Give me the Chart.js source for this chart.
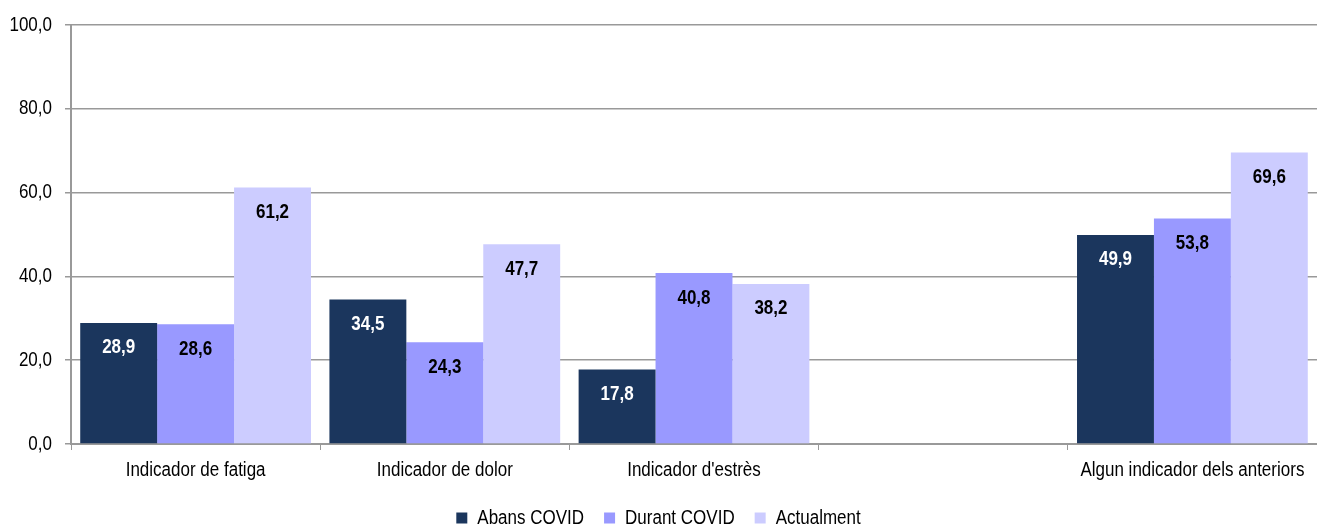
<!DOCTYPE html>
<html>
<head>
<meta charset="utf-8">
<script src="https://cdn.jsdelivr.net/npm/chart.js@4"></script>
<style>
  html, body { margin: 0; padding: 0; background: #fff; }
  #wrap { width: 1317px; height: 528px; }
</style>
</head>
<body>
<div id="wrap"><canvas id="chart"></canvas></div>
<script>
const categories = ['Indicador de fatiga', 'Indicador de dolor', "Indicador d'estrès", '', 'Algun indicador dels anteriors'];
const seriesNames = ['Abans COVID', 'Durant COVID', 'Actualment'];
const abansValues = [28.9, 34.5, 17.8, null, 49.9];
const durantValues = [28.6, 24.3, 40.8, null, 53.8];
const actualValues = [61.2, 47.7, 38.2, null, 69.6];
const yTicks = [0, 20, 40, 60, 80, 100];

const colors = ['#1B365D', '#9999FF', '#CCCCFF'];
const labelColors = ['#FFFFFF', '#000000', '#000000'];
const FONT = '"Liberation Sans", Arial, sans-serif';
const fmt = v => v.toFixed(1).replace('.', ',');

// the reference uses a narrow font, so squeeze all canvas text horizontally
const SQUEEZE = 0.85;
const canvas = document.getElementById('chart');
const ctx2d = canvas.getContext('2d');
const origFill = ctx2d.fillText.bind(ctx2d);
const origMeasure = ctx2d.measureText.bind(ctx2d);
ctx2d.fillText = function (text, x, y, maxWidth) {
    this.save();
    this.translate(x, y);
    this.scale(SQUEEZE, 1);
    if (maxWidth === undefined) origFill(text, 0, 0);
    else origFill(text, 0, 0, maxWidth / SQUEEZE);
    this.restore();
};
ctx2d.measureText = function (text) {
    const m = origMeasure(text);
    return {
        width: m.width * SQUEEZE,
        actualBoundingBoxAscent: m.actualBoundingBoxAscent,
        actualBoundingBoxDescent: m.actualBoundingBoxDescent,
        actualBoundingBoxLeft: m.actualBoundingBoxLeft * SQUEEZE,
        actualBoundingBoxRight: m.actualBoundingBoxRight * SQUEEZE,
        fontBoundingBoxAscent: m.fontBoundingBoxAscent,
        fontBoundingBoxDescent: m.fontBoundingBoxDescent
    };
};

// value labels inside the top of each bar
const barLabels = {
    id: 'barLabels',
    afterDatasetsDraw(chart) {
        const ctx = chart.ctx;
        ctx.save();
        ctx.font = 'bold 20px ' + FONT;
        ctx.textAlign = 'center';
        ctx.textBaseline = 'middle';
        chart.data.datasets.forEach((ds, i) => {
            chart.getDatasetMeta(i).data.forEach((bar, j) => {
                const v = ds.data[j];
                if (v == null) return;
                ctx.fillStyle = labelColors[i];
                ctx.fillText(fmt(v), bar.x, bar.y + 25);
            });
        });
        ctx.restore();
    }
};

const datasets = [abansValues, durantValues, actualValues].map((values, i) => ({
    label: seriesNames[i],
    data: values,
    backgroundColor: colors[i],
    borderWidth: 0,
    categoryPercentage: 0.926,
    barPercentage: 1.0,
}));

new Chart(ctx2d, {
    type: 'bar',
    data: { labels: categories, datasets: datasets },
    plugins: [barLabels],
    options: {
        responsive: true,
        maintainAspectRatio: false,
        animation: false,
        layout: { padding: { top: 21, right: 0, left: 0, bottom: -10 } },
        plugins: {
            legend: {
                position: 'bottom',
                labels: {
                    boxWidth: 11,
                    boxHeight: 11,
                    padding: 20,
                    color: '#000',
                    font: { family: FONT, size: 20 }
                }
            },
            tooltip: { enabled: false }
        },
        scales: {
            x: {
                offset: true,
                afterFit: axis => { axis.height = 44; },
                grid: {
                    offset: true,
                    drawOnChartArea: false,
                    drawTicks: true,
                    tickLength: 6,
                    color: '#999'
                },
                border: { color: '#999', width: 2 },
                ticks: {
                    color: '#000',
                    padding: 8,
                    maxRotation: 0,
                    autoSkip: false,
                    font: { family: FONT, size: 20 }
                }
            },
            y: {
                min: 0,
                max: 100,
                afterBuildTicks: axis => { axis.ticks = yTicks.map(v => ({ value: v })); },
                afterFit: axis => { axis.width = 71; },
                grid: {
                    color: '#999',
                    lineWidth: 1.5,
                    tickLength: 6
                },
                border: { color: '#999', width: 2 },
                ticks: {
                    color: '#000',
                    padding: 13,
                    callback: v => fmt(v),
                    font: { family: FONT, size: 20 }
                }
            }
        }
    }
});
</script>
</body>
</html>
